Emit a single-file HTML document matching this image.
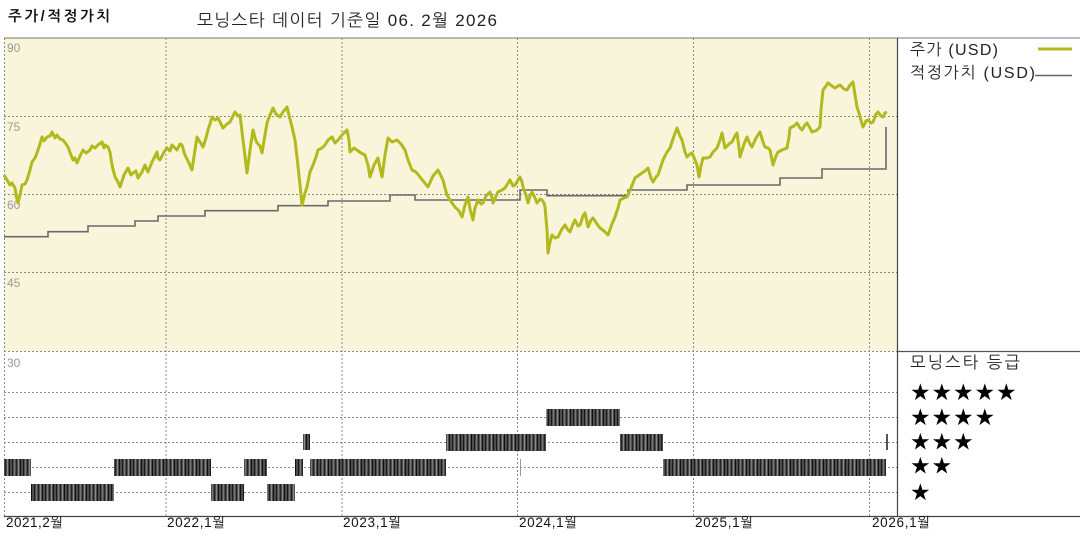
<!DOCTYPE html>
<html><head><meta charset="utf-8"><style>
html,body{margin:0;padding:0;background:#fff;}
svg{display:block;}
text{font-family:"Liberation Sans","NanumGothic","Noto Sans CJK KR",sans-serif;}
</style></head><body>
<svg width="1080" height="540" viewBox="0 0 1080 540" xmlns="http://www.w3.org/2000/svg">
<defs>
<pattern id="bars" x="0" y="0" width="11" height="20" patternUnits="userSpaceOnUse">
<rect x="0" y="0" width="11" height="20" fill="#4e4e4e"/>
<rect x="1" y="0" width="1" height="20" fill="#1a1a1a"/>
<rect x="3" y="0" width="1" height="20" fill="#777"/>
<rect x="5" y="0" width="1" height="20" fill="#222"/>
<rect x="7" y="0" width="1" height="20" fill="#8a8a8a"/>
<rect x="9" y="0" width="1" height="20" fill="#111"/>
</pattern>
</defs>
<!-- titles -->
<text x="8" y="21" font-size="14.5" font-weight="bold" fill="#111" textLength="102" lengthAdjust="spacing">주가/적정가치</text>
<text x="197" y="26" font-size="17" fill="#222" textLength="300" lengthAdjust="spacing">모닝스타 데이터 기준일 06. 2월 2026</text>

<!-- upper panel bg -->
<rect x="4" y="38" width="893" height="313" fill="#f9f5da"/>

<!-- grid -->
<g stroke="#8a8a8a" stroke-width="1" stroke-dasharray="2,2" fill="none">
<line x1="4" y1="116.5" x2="897" y2="116.5"/>
<line x1="4" y1="194.5" x2="897" y2="194.5"/>
<line x1="4" y1="272.5" x2="897" y2="272.5"/>
<line x1="4" y1="351.5" x2="897" y2="351.5"/>
<line x1="4" y1="392.5" x2="897" y2="392.5"/>
<line x1="4" y1="417.5" x2="897" y2="417.5"/>
<line x1="4" y1="442.5" x2="897" y2="442.5"/>
<line x1="4" y1="467.5" x2="897" y2="467.5"/>
<line x1="4" y1="492.5" x2="897" y2="492.5"/>
<line x1="4.5" y1="38" x2="4.5" y2="516"/>
<line x1="166" y1="38" x2="166" y2="516"/>
<line x1="342" y1="38" x2="342" y2="516"/>
<line x1="517.5" y1="38" x2="517.5" y2="516"/>
<line x1="693.5" y1="38" x2="693.5" y2="516"/>
<line x1="869.5" y1="38" x2="869.5" y2="516"/>
</g>

<!-- frame -->
<line x1="4" y1="38" x2="1080" y2="38" stroke="#777" stroke-width="1"/>
<line x1="897" y1="351.5" x2="1080" y2="351.5" stroke="#555" stroke-width="1.2"/>
<line x1="4" y1="516.5" x2="1080" y2="516.5" stroke="#444" stroke-width="1.2"/>
<line x1="897.5" y1="38" x2="897.5" y2="516" stroke="#444" stroke-width="1.2"/>

<!-- y labels -->
<g font-size="12" fill="#9a9a9a">
<text x="7" y="52">90</text>
<text x="7" y="131">75</text>
<text x="7" y="209">60</text>
<text x="7" y="287">45</text>
<text x="7" y="367">30</text>
</g>

<!-- fair value -->
<path d="M4,236.7 H48 V231.7 H88 V226 H135 V221 H158 V216 H205 V210.7 H278 V205.7 H328 V201 H390 V195 H415 V200 H520 V190 H547 V195.7 H628 V190 H687 V185 H780 V178 H822 V169 H886 V127" fill="none" stroke="#6a6a6a" stroke-width="1.6"/>

<!-- price -->
<polyline fill="none" stroke="#b2b91e" stroke-width="3" stroke-linejoin="round" points="4,175 7,180 10,185 12,183 15,188 16,195 18,203 20,195 22,185 25,184 27,180 30,170 32,162 35,158 37,153 40,144 42,137 44,141 47,137 50,136 52,132 55,138 57,135 60,139 63,140 66,144 68,147 71,155 73,160 75,158 77,163 80,156 83,150 86,153 90,150 92,146 95,148 98,145 102,142 104,148 105,145 108,147 110,152 112,165 115,177 118,182 120,187 124,175 128,168 131,175 133,173 136,171 138,178 142,172 145,165 147,170 148,172 152,162 157,152 158,158 160,160 164,152 167,148 170,151 172,145 175,148 177,150 180,144 182,145 184,152 185,155 189,163 192,170 195,150 197,137 200,142 203,147 206,138 208,130 210,124 212,117 215,120 218,118 221,124 223,128 227,124 230,122 233,116 235,112 238,116 240,115 243,140 247,173 250,150 253,130 255,138 257,143 260,146 262,153 265,135 267,123 270,115 273,108 276,114 280,117 283,112 287,107 289,115 292,127 295,140 297,157 300,185 302,205 305,193 307,187 310,172 313,165 316,157 318,150 322,148 325,145 328,140 332,137 335,143 338,140 342,135 347,130 349,140 350,152 354,148 357,150 361,153 365,155 368,165 370,177 374,165 378,158 380,168 382,177 385,155 388,138 392,142 397,140 401,144 405,150 408,160 412,170 416,172 420,177 424,182 428,187 433,176 438,170 441,176 443,180 445,188 447,195 450,200 452,203 455,207 459,211 462,217 465,205 468,197 470,209 473,220 475,208 478,200 481,204 483,203 486,196 490,192 492,198 493,203 496,196 498,192 502,190 505,188 508,183 510,180 513,186 515,185 518,180 520,177 522,182 523,187 526,195 528,203 530,196 532,192 535,198 537,203 540,199 542,200 544,203 545,207 547,230 548,253 550,242 552,235 555,238 558,237 562,229 565,225 568,230 570,232 573,224 575,220 578,226 580,225 583,216 585,213 587,222 588,227 591,220 593,218 597,224 600,228 604,231 608,235 612,224 615,217 618,208 620,200 624,198 627,197 631,188 635,178 639,175 642,173 645,171 648,168 651,178 653,182 656,177 658,175 661,166 663,160 667,152 670,148 674,136 677,128 680,136 682,140 685,152 687,157 690,154 692,153 695,160 697,165 698,171 699,177 701,166 703,158 707,158 710,157 713,152 717,148 720,140 722,133 724,143 725,148 729,144 732,142 735,136 737,133 739,148 740,157 744,144 747,137 750,144 752,147 756,138 760,132 763,142 765,147 768,148 770,150 772,160 773,165 776,156 778,152 782,150 787,148 789,137 790,128 794,126 797,123 800,128 802,130 805,125 807,123 810,128 812,132 815,131 817,130 820,127 821,110 823,90 826,86 828,83 832,86 835,88 838,86 840,85 844,89 847,90 850,85 853,82 855,95 857,107 859,113 860,117 862,124 863,127 866,121 868,120 871,123 873,122 876,114 878,112 881,116 883,117 885,113 887,112"/>

<!-- rating bars -->
<g fill="url(#bars)">
<rect x="4" y="459" width="27" height="17"/>
<rect x="114" y="459" width="97" height="17"/>
<rect x="244" y="459" width="23" height="17"/>
<rect x="295" y="459" width="8" height="17"/>
<rect x="310" y="459" width="136" height="17"/>
<rect x="663" y="459" width="223" height="17"/>
<rect x="31" y="484" width="83" height="17"/>
<rect x="211" y="484" width="33" height="17"/>
<rect x="267" y="484" width="28" height="17"/>
<rect x="303" y="434" width="7" height="16"/>
<rect x="446" y="434" width="100" height="17"/>
<rect x="620" y="434" width="43" height="17"/>
<rect x="546" y="409" width="74" height="17"/>
</g>
<rect x="886" y="434" width="2" height="16" fill="#555"/>
<rect x="520" y="459" width="1" height="17" fill="#999"/>

<!-- x labels -->
<g font-size="13.5" fill="#111">
<text x="6" y="527" textLength="57" lengthAdjust="spacing">2021,2월</text>
<text x="167" y="527" textLength="58" lengthAdjust="spacing">2022,1월</text>
<text x="343" y="527" textLength="58" lengthAdjust="spacing">2023,1월</text>
<text x="519" y="527" textLength="58" lengthAdjust="spacing">2024,1월</text>
<text x="695" y="527" textLength="58" lengthAdjust="spacing">2025,1월</text>
<text x="872" y="527" textLength="58" lengthAdjust="spacing">2026,1월</text>
</g>

<!-- legend -->
<text x="910" y="55" font-size="16" fill="#222" textLength="88" lengthAdjust="spacing">주가 (USD)</text>
<line x1="1038" y1="49" x2="1072" y2="49" stroke="#b2b91e" stroke-width="3"/>
<text x="910" y="78" font-size="16" fill="#222" textLength="125" lengthAdjust="spacing">적정가치 (USD)</text>
<line x1="1035" y1="75.5" x2="1072" y2="75.5" stroke="#666" stroke-width="1.5"/>

<text x="910" y="368" font-size="16.5" fill="#222" textLength="110" lengthAdjust="spacing">모닝스타 등급</text>
<g font-size="23" fill="#000">
<text x="910 931.5 953 974.5 996" y="400" style="font-family:'DejaVu Sans',sans-serif">★★★★★</text>
<text x="910 931.5 953 974.5" y="425" style="font-family:'DejaVu Sans',sans-serif">★★★★</text>
<text x="910 931.5 953" y="449.5" style="font-family:'DejaVu Sans',sans-serif">★★★</text>
<text x="910 931.5" y="473.5" style="font-family:'DejaVu Sans',sans-serif">★★</text>
<text x="910" y="500" style="font-family:'DejaVu Sans',sans-serif">★</text>
</g>
</svg>
</body></html>
